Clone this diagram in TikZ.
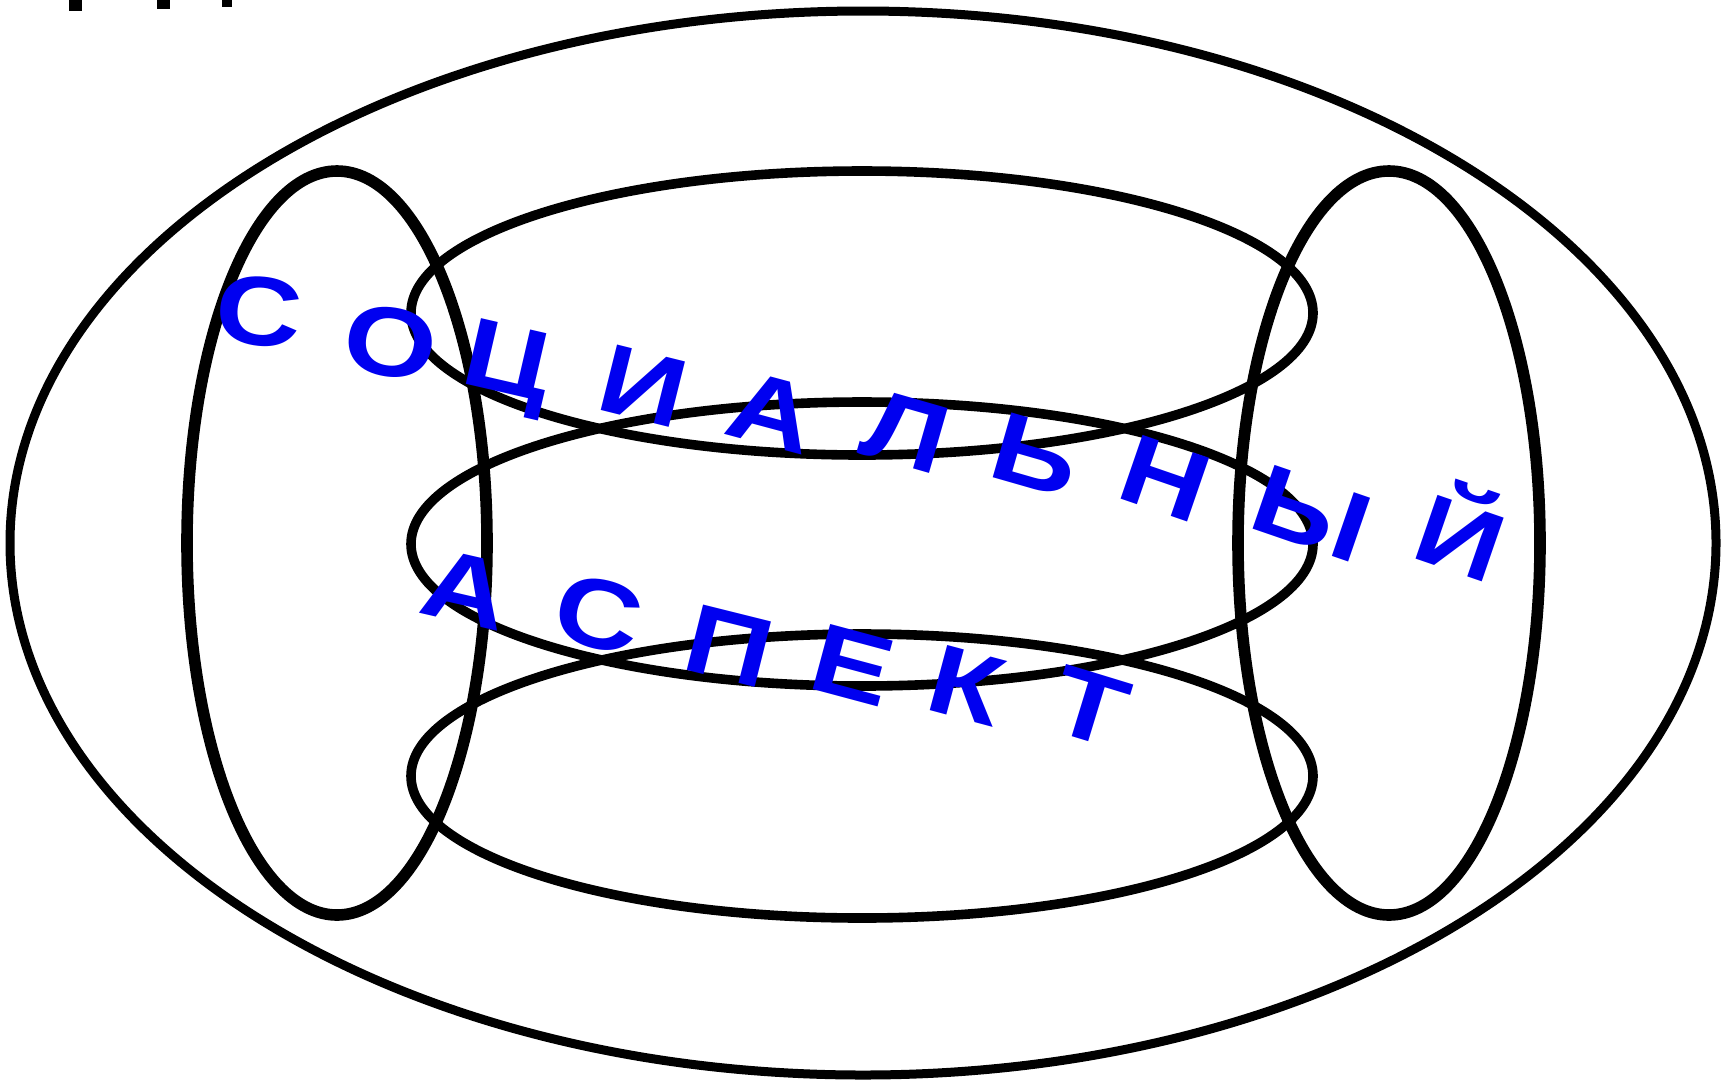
\documentclass[tikz,border=0pt]{standalone}
\usepackage{fontspec}
\setmainfont{Liberation Sans}
\definecolor{letterblue}{RGB}{0,0,240}
\newcommand{\wide}[1]{\scalebox{1.22}[1]{#1}}
\begin{document}
\begin{tikzpicture}[x=0.5pt,y=-0.5pt,
  outerline/.style={draw=black,line width=4.5pt},
  hline/.style={draw=black,line width=4.8pt},
  vline/.style={draw=black,line width=5.8pt},
  lt/.style={font=\fontsize{49}{49}\selectfont\bfseries,text=letterblue,inner sep=0pt,text height=35pt,text depth=0pt,anchor=center}]
\useasboundingbox (0,0) rectangle (1729,1084);
% remnants at top
\fill[black] (69,0) rectangle (82,11);
\fill[black] (157,0) rectangle (170,9);
\fill[black] (222,0) rectangle (232,7);
% ellipses
\draw[outerline] (863,543) ellipse [x radius=853, y radius=532];
\draw[vline] (337,543) ellipse [x radius=150, y radius=372];
\draw[vline] (1389,543) ellipse [x radius=151, y radius=372];
\draw[hline] (862,313) ellipse [x radius=451, y radius=142];
\draw[hline] (862,544) ellipse [x radius=451, y radius=142];
\draw[hline] (862,776) ellipse [x radius=451, y radius=142];
% first word
\node[lt,rotate=-6]  (c1) at (259,310) {\wide{С}};
\node[lt,rotate=-9]  (c2) at (391,341) {\wide{О}};
\node[lt,rotate=-13] (c3) at (509,358) {\wide{Ц}};
\node[lt,rotate=-14] (c4) at (644,385) {\wide{И}};
\node[lt,rotate=-15] (c5) at (772,411) {\wide{А}};
\node[lt,rotate=-16] (c6) at (906,430) {\wide{Л}};
\node[lt,rotate=-16] (c7) at (1036,454) {\wide{Ь}};
\node[lt,rotate=-19] (c8) at (1166,477) {\wide{Н}};
\node[lt,rotate=-19] (c9) at (1312,512) {\wide{Ы}};
\node[lt,rotate=-19] (c10) at (1461,537) {\wide{Й}};
% second word
\node[lt,rotate=-13] (a1) at (466,588) {\wide{А}};
\node[lt,rotate=-14] (a2) at (599,613) {\wide{С}};
\node[lt,rotate=-14] (a3) at (730,645) {\wide{П}};
\node[lt,rotate=-15] (a4) at (853,664) {\wide{Е}};
\node[lt,rotate=-15] (a5) at (967,684) {\wide{К}};
\node[lt,rotate=-17] (a6) at (1091,706) {\wide{Т}};
\end{tikzpicture}
\end{document}
